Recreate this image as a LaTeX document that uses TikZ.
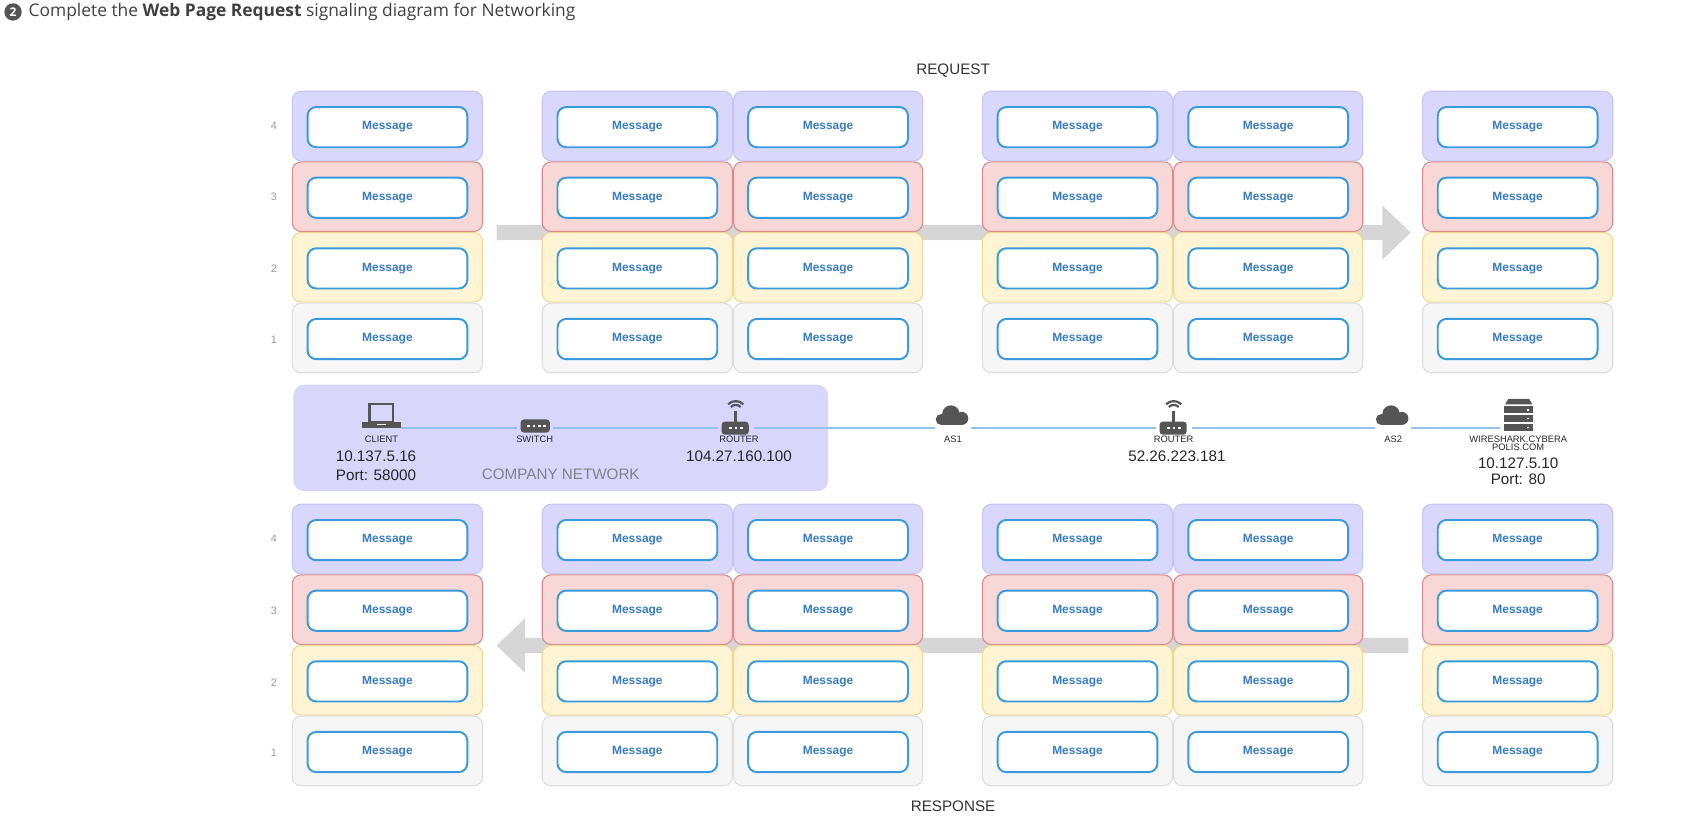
\documentclass[tikz,border=0pt]{standalone}
\usepackage{fontspec}
\setmainfont{Liberation Sans}
\newfontfamily\hdr{Open Sans}
\begin{document}
\begin{tikzpicture}[x=0.5pt,y=-0.5pt,
  card/.style={rounded corners=4pt,line width=0.5pt},
  c4/.style={card,fill=lav,draw=lavb},
  c3/.style={card,fill=pinkf,draw=pinkb},
  c2/.style={card,fill=yelf,draw=yelb},
  c1/.style={card,fill=grayf,draw=grayb},
  msg/.style={draw=msgb,fill=white,line width=0.9pt,rounded corners=4pt,minimum width=73.5pt,minimum height=18.5pt,inner sep=0pt,text=msgt,font=\fontsize{5.5}{6}\selectfont\bfseries},
  rowlab/.style={text=gray!80,font=\fontsize{5}{6}\selectfont},
  tiny/.style={text=black!85,font=\fontsize{4.3}{5}\selectfont},
  ip/.style={text=black!85,font=\fontsize{7}{8}\selectfont},
  icon/.style={fill=icn,draw=none},
  net/.style={draw=netb,line width=0.7pt},
  bigarr/.style={fill=arr,draw=none}]
\definecolor{lav}{HTML}{D9D7FB}\definecolor{lavb}{HTML}{C9C5F3}
\definecolor{pinkf}{HTML}{F8D7D7}\definecolor{pinkb}{HTML}{D98C8C}
\definecolor{yelf}{HTML}{FFF4D3}\definecolor{yelb}{HTML}{EED891}
\definecolor{grayf}{HTML}{F6F6F6}\definecolor{grayb}{HTML}{DDDDDD}
\definecolor{msgb}{HTML}{3A9BDC}\definecolor{msgt}{HTML}{3A7CC4}
\definecolor{icn}{HTML}{555555}\definecolor{netb}{HTML}{8EC3EE}
\definecolor{arr}{HTML}{D6D6D6}\definecolor{cn}{HTML}{D8D6FB}
\useasboundingbox (0,0) rectangle (1568,763);
% header
\node[circle,fill=icn,inner sep=0pt,minimum size=8pt,text=white,font=\hdr\fontsize{5.5}{6}\selectfont\bfseries] (num) at (12,11) {2};
\node[anchor=west,inner sep=0pt,text=black!75,font=\hdr\fontsize{8}{9}\selectfont] (title) at (26,11) {Complete the \textbf{Web Page Request} signaling diagram for Networking};
\node[text=black!80,font=\fontsize{7}{8}\selectfont] (req) at (877,65) {REQUEST};
\node[text=black!80,font=\fontsize{7}{8}\selectfont] (resp) at (877,742) {RESPONSE};
% big arrows
\fill[bigarr] (457,207) -- (1272,207) -- (1272,189) -- (1298,214) -- (1272,239) -- (1272,221) -- (457,221) -- cycle;
\fill[bigarr] (1296,587) -- (483,587) -- (483,569) -- (457,594) -- (483,619) -- (483,601) -- (1296,601) -- cycle;
% cards
\foreach \xa/\xb [count=\c] in {269/444,499/674,675/849,904/1079,1080/1254,1309/1484}{
  \foreach \ya/\r in {84/4,149/3,214/2,279/1}{
    \draw[c\r] (\xa,\ya) rectangle (\xb,\ya+64);
    \node[msg] (t\c r\r) at ({(\xa+\xb)/2},\ya+33) {Message};
  }
  \foreach \ya/\r in {464/4,529/3,594/2,659/1}{
    \draw[c\r] (\xa,\ya) rectangle (\xb,\ya+64);
    \node[msg] (b\c r\r) at ({(\xa+\xb)/2},\ya+33) {Message};
  }
}
\foreach \y/\r in {116/4,181/3,247/2,313/1,496/4,562/3,628/2,693/1}{
  \node[rowlab] at (252,\y) {\r};
}
% company network
\fill[cn,rounded corners=5pt] (270,354) rectangle (762,452);
\node[text=black!40!cn!60!gray,font=\fontsize{7}{8}\selectfont] (cnl) at (516,436) {COMPANY NETWORK};
% icon nodes
\node[inner sep=0pt,minimum width=18pt,minimum height=12pt] (client) at (351,382) {};
\node[inner sep=0pt,minimum width=16pt,minimum height=8pt] (switch) at (492,392) {};
\node[inner sep=0pt,minimum width=16pt,minimum height=14pt] (r1) at (677,386) {};
\node[inner sep=0pt,minimum width=16pt,minimum height=10pt] (as1) at (877,385) {};
\node[inner sep=0pt,minimum width=16pt,minimum height=14pt] (r2) at (1080,386) {};
\node[inner sep=0pt,minimum width=16pt,minimum height=10pt] (as2) at (1282,385) {};
\node[inner sep=0pt,minimum width=16pt,minimum height=16pt] (srv) at (1397,383) {};
\foreach \a/\b in {client/switch,switch/r1,r1/as1,as1/r2,r2/as2,as2/srv}{
  \draw[net] (\a.east|-0,394) -- (\b.west|-0,394);
}
% laptop
\draw[icn,line width=1pt] (340,372) rectangle (362,388);
\fill[icon] (333,388) rectangle (369,394);
\fill[white] (347,390) rectangle (355,391.5);
% switch
\fill[icon,rounded corners=1.5pt] (479,386) rectangle (506,398);
\foreach \x in {485,490,495,500} \fill[white] (\x,391) rectangle (\x+2.5,393);
% routers
\foreach \rx in {677,1080}{
  \fill[icon,rounded corners=1.5pt] (\rx-13,388) rectangle (\rx+12,400);
  \draw[icn,line width=1.3pt] (\rx,388) -- (\rx,378);
  \draw[icn,line width=1pt] (\rx-4.5,374.5) arc (225:315:6.4);
  \draw[icn,line width=1pt] (\rx-7,372) arc (225:315:9.9);
  \foreach \d in {-6,-1,4} \fill[white] (\rx+\d,393) rectangle (\rx+\d+2.5,395);
}
% clouds
\foreach \cx in {877,1282}{
  \fill[icon] (\cx-11,386) circle (5) (\cx-2,381) circle (8) (\cx+8,385) circle (6);
  \fill[icon] (\cx-11,384) rectangle (\cx+8,391);
}
% server
\fill[icon] (1385,372) -- (1388,367) -- (1407,367) -- (1410,372) -- cycle;
\foreach \y in {374,382,390}{
  \fill[icon] (1384,\y) rectangle (1411,\y+6.5);
  \fill[white] (1405,\y+2.5) rectangle (1407,\y+4);
}
% labels
\node[tiny] at (351,404) {CLIENT};
\node[ip] at (346,420) {10.137.5.16};
\node[ip] at (346,437) {Port: 58000};
\node[tiny] at (492,404) {SWITCH};
\node[tiny] at (680,404) {ROUTER};
\node[ip] at (680,420) {104.27.160.100};
\node[tiny] at (877,404) {AS1};
\node[tiny] at (1080,404) {ROUTER};
\node[ip] at (1083,420) {52.26.223.181};
\node[tiny] at (1282,404) {AS2};
\node[tiny,align=center] at (1397,408) {WIRESHARK.CYBERA\\[-1pt]POLIS.COM};
\node[ip] at (1397,426) {10.127.5.10};
\node[ip] at (1397,441) {Port: 80};
\end{tikzpicture}
\end{document}
